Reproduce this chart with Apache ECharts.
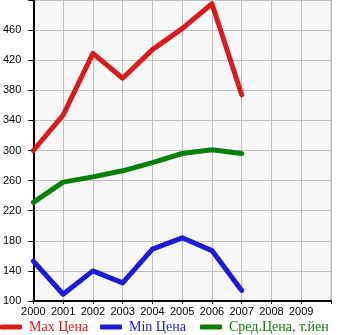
<!DOCTYPE html>
<html>
<head>
<meta charset="utf-8">
<script src="https://cdn.jsdelivr.net/npm/echarts@6/dist/echarts.min.js"></script>
<style>
  html, body { margin: 0; padding: 0; background: #ffffff; }
  #chart { width: 345px; height: 335px; }
</style>
</head>
<body>
<div id="chart"></div>
<script>
// Price history by model year
const years = [2000, 2001, 2002, 2003, 2004, 2005, 2006, 2007];
const maxPrice = [300, 347, 429, 396, 434, 462, 495, 374];
const minPrice = [153, 109, 140, 124, 169, 184, 167, 114];
const avgPrice = [231, 258, 265, 273, 284, 296, 301, 296];
const seriesNames = ['Мах Цена', 'Min Цена', 'Сред.Цена, т.йен'];
const seriesColors = ['#d71c1c', '#1c1cd7', '#088008'];

const pairs = (vals) => years.map((y, i) => [y, vals[i]]);

const chart = echarts.init(document.getElementById('chart'), null, { renderer: 'canvas' });

const lineSeries = [maxPrice, minPrice, avgPrice].map((vals, i) => ({
  name: seriesNames[i],
  type: 'line',
  data: pairs(vals),
  symbol: 'none',
  lineStyle: { color: seriesColors[i], width: 5, cap: 'round', join: 'round' },
  itemStyle: { color: seriesColors[i] },
  animation: false
}));

const legends = seriesNames.map((name, i) => ({
  data: [name],
  left: i * 100,
  top: 320,
  padding: 0,
  itemWidth: 22,
  itemHeight: 5,
  icon: 'roundRect',
  itemGap: 8,
  selectedMode: false,
  textStyle: {
    color: seriesColors[i],
    fontFamily: 'Liberation Serif',
    fontSize: 14,
    padding: [0, 0, 0, 2]
  }
}));

chart.setOption({
  backgroundColor: '#ffffff',
  animation: false,
  grid: {
    left: 31, right: 14, top: 0, bottom: 34,
    show: true,
    backgroundColor: '#f7f7f7',
    borderColor: '#bdbdbd',
    borderWidth: 1
  },
  legend: legends,
  xAxis: {
    type: 'value',
    min: 2000,
    max: 2010,
    interval: 1,
    axisLine: { show: true, onZero: false, lineStyle: { color: '#000', width: 2 } },
    axisTick: { show: true, length: 3, lineStyle: { color: '#000' } },
    splitLine: { show: true, lineStyle: { color: '#c0c0c0', width: 1 } },
    axisLabel: {
      color: '#000',
      fontFamily: 'Liberation Sans',
      fontSize: 11,
      margin: 5,
      formatter: (v) => (v >= 2010 ? '' : String(v))
    }
  },
  yAxis: {
    type: 'value',
    min: 100,
    max: 500,
    interval: 40,
    axisLine: { show: true, onZero: false, lineStyle: { color: '#000', width: 2 } },
    axisTick: { show: true, length: 5, lineStyle: { color: '#000' } },
    splitLine: { show: true, lineStyle: { color: '#c0c0c0', width: 1 } },
    axisLabel: {
      color: '#000',
      fontFamily: 'Liberation Sans',
      fontSize: 11,
      margin: 12,
      verticalAlign: 'middle',
      padding: [0, 0, 7, 0],
      formatter: (v) => (v >= 500 ? '' : String(v))
    }
  },
  series: lineSeries
});
</script>
</body>
</html>
